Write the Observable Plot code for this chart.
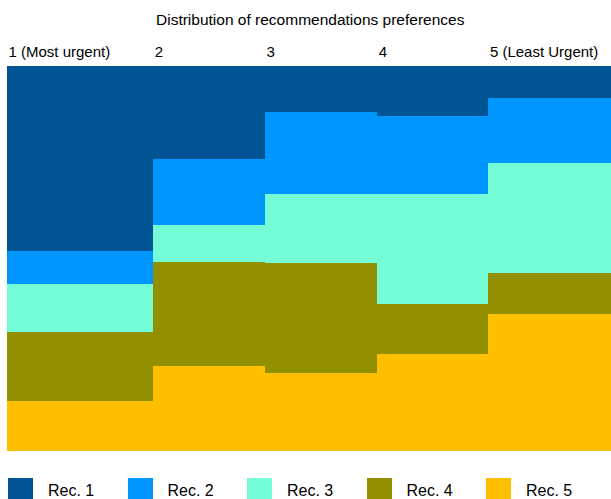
<!DOCTYPE html>
<html><head><meta charset="utf-8">
<script src="https://cdn.jsdelivr.net/npm/d3@7"></script>
<script src="https://cdn.jsdelivr.net/npm/@observablehq/plot@0.6"></script>
<style>
body{margin:0;background:#fff;font-family:"Liberation Sans",Arial,sans-serif;color:#000;}
#title{padding:11px 0 0 156px;font-size:15.5px;line-height:18px;height:18px;white-space:nowrap;}
#chart svg{display:block;}
#legend{display:flex;margin-top:27px;padding-left:8px;}
.item{display:flex;align-items:center;width:119.5px;font-size:16px;white-space:nowrap;flex:none;}
.sw{width:25px;height:25px;margin-right:15px;flex:none;}
</style></head><body>
<div id="title">Distribution of recommendations preferences</div>
<div id="chart"></div>
<div id="legend"></div>
<script>
// Columns (urgency rank) and their relative widths
const columns = ["1 (Most urgent)", "2", "3", "4", "5 (Least Urgent)"];
const columnShare = [24.2, 18.5, 18.6, 18.4, 20.3];

// Series
const series = ["Rec. 1", "Rec. 2", "Rec. 3", "Rec. 4", "Rec. 5"];
const rec1 = [48.2, 24.2, 11.9, 12.9, 8.3];
const rec2 = [8.5, 17.1, 21.5, 20.4, 17.0];
const rec3 = [12.5, 9.7, 17.7, 28.6, 28.6];
const rec4 = [17.8, 26.9, 28.8, 13.0, 10.6];
const rec5 = [13.1, 22.1, 20.2, 25.1, 35.6];
const colors = ["#005493", "#0096FF", "#73FCD6", "#929000", "#FFBF00"];

const values = [rec1, rec2, rec3, rec4, rec5];
const starts = columnShare.map((d, i) => d3.sum(columnShare.slice(0, i)));
const total = d3.sum(columnShare);

const data = [];
columns.forEach((c, j) => {
  series.forEach((s, i) => {
    data.push({rec: s, col: c, x1: starts[j], x2: starts[j] + columnShare[j], value: values[i][j]});
  });
});
const colData = columns.map((c, j) => ({label: c, x1: starts[j]}));

const chart = Plot.plot({
  width: 611,
  height: 422,
  marginTop: 37,
  marginBottom: 0,
  marginLeft: 7,
  marginRight: 0,
  style: {fontSize: "15px", fontFamily: "inherit", color: "#000", background: "#fff"},
  x: {domain: [0, total], axis: null},
  y: {axis: null},
  color: {domain: series, range: colors},
  marks: [
    Plot.rect(data, Plot.stackY({x1: "x1", x2: "x2", y: "value", z: "rec", fill: "rec", offset: "normalize", reverse: true, shapeRendering: "crispEdges"})),
    Plot.text(colData, {x: "x1", text: "label", frameAnchor: "top", textAnchor: "start", lineAnchor: "bottom", dx: 1, dy: -10, fontSize: 15})
  ]
});
document.getElementById("chart").appendChild(chart);

const legend = document.getElementById("legend");
series.forEach((s, i) => {
  const item = document.createElement("div");
  item.className = "item";
  const sw = document.createElement("div");
  sw.className = "sw";
  sw.style.background = colors[i];
  const t = document.createElement("span");
  t.textContent = s;
  item.appendChild(sw);
  item.appendChild(t);
  legend.appendChild(item);
});
</script>
</body></html>
